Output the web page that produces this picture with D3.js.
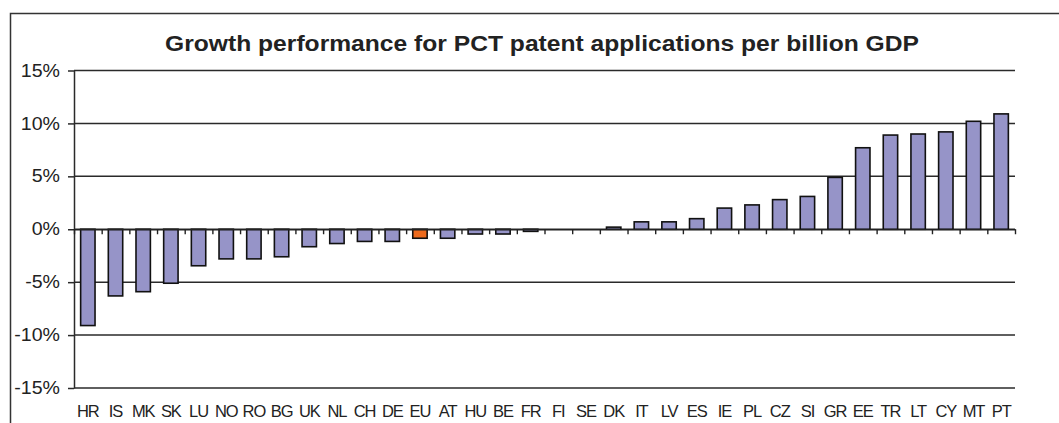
<!DOCTYPE html>
<html>
<head>
<meta charset="utf-8">
<script src="https://cdn.jsdelivr.net/npm/d3@7"></script>
<style>
  body { margin: 0; background: #fff; }
  text { font-family: "Liberation Sans", Arial, sans-serif; fill: #222; }
</style>
</head>
<body>
<script>
// data
const countries = ["HR","IS","MK","SK","LU","NO","RO","BG","UK","NL","CH","DE","EU","AT","HU","BE","FR",
  "FI","SE","DK","IT","LV","ES","IE","PL","CZ","SI","GR","EE","TR","LT","CY","MT","PT"];
const growth = [-9.1,-6.3,-5.9,-5.1,-3.45,-2.8,-2.8,-2.6,-1.65,-1.35,-1.15,-1.15,-0.85,-0.85,-0.45,-0.45,-0.2,
  0,0,0.2,0.7,0.7,1.0,2.0,2.3,2.8,3.1,4.9,7.7,8.9,9.0,9.2,10.2,10.9];
const yTicks = [-15,-10,-5,0,5,10,15];
const highlight = "EU";

const w = 1059, h = 423;
const plotL = 74, plotR = 1015, plotT = 70.5, plotB = 388;
const stretch = 1.12; // text in the picture is a bit wide

const svg = d3.select("body").append("svg")
  .attr("width", w)
  .attr("height", h);

svg.append("rect").attr("width", w).attr("height", h).attr("fill", "#fff");

// outer frame
svg.append("rect")
  .attr("x", 10.5).attr("y", 13.5)
  .attr("width", 1100).attr("height", 500)
  .attr("fill", "none").attr("stroke", "#333").attr("stroke-width", 1.5);

const data = countries.map((c, i) => ({c: c, v: growth[i]}));

const x = d3.scaleBand()
  .domain(countries)
  .range([plotL, plotR])
  .paddingInner(0.48)
  .paddingOuter(0.24);

const xEdge = d3.scaleLinear().domain([0, countries.length]).range([plotL, plotR]);

const y = d3.scaleLinear().domain([-15, 15]).range([plotB, plotT]);

// gridlines
svg.append("g")
  .selectAll("line")
  .data(yTicks)
  .enter()
  .append("line")
  .attr("x1", plotL).attr("x2", plotR)
  .attr("y1", d => y(d)).attr("y2", d => y(d))
  .attr("stroke", "#2a2a2a").attr("stroke-width", 1.5);

// y axis
const yAxis = svg.append("g")
  .attr("transform", "translate(" + plotL + ",0)")
  .call(d3.axisLeft(y).tickValues(yTicks).tickSize(6).tickSizeOuter(0).tickFormat(d => d + "%"));
yAxis.select(".domain").attr("stroke", "#2a2a2a").attr("stroke-width", 1.5);
yAxis.selectAll(".tick line").attr("stroke", "#2a2a2a").attr("stroke-width", 1.5);
yAxis.selectAll(".tick text")
  .attr("x", -14 / stretch)
  .attr("transform", "scale(" + stretch + ",1)")
  .style("font-size", "17.5px")
  .attr("fill", "#222");

// bars
svg.selectAll(".bar")
  .data(data.filter(d => d.v !== 0))
  .enter()
  .append("rect")
  .attr("class", "bar")
  .attr("x", d => x(d.c))
  .attr("y", d => y(Math.max(0, d.v)))
  .attr("width", x.bandwidth())
  .attr("height", d => Math.abs(y(d.v) - y(0)))
  .attr("fill", d => d.c === highlight ? "#ee6a1c" : "#9694c8")
  .attr("stroke", "#111")
  .attr("stroke-width", 1.6);

// zero axis with tick marks between categories
const zeroAxis = svg.append("g")
  .attr("transform", "translate(0," + y(0) + ")")
  .call(d3.axisBottom(xEdge).tickValues(d3.range(countries.length + 1)).tickSize(5).tickSizeOuter(0).tickFormat(""));
zeroAxis.select(".domain").attr("stroke", "#222").attr("stroke-width", 1.5);
zeroAxis.selectAll(".tick line").attr("stroke", "#222").attr("stroke-width", 1.4);

// category labels below the plot
const xAxis = svg.append("g")
  .attr("transform", "translate(0," + plotB + ")")
  .call(d3.axisBottom(x).tickSize(0).tickPadding(0));
xAxis.select(".domain").remove();
xAxis.selectAll(".tick text")
  .attr("dy", "29px")
  .style("font-size", "16.5px")
  .style("letter-spacing", "-1.1px")
  .attr("fill", "#222");

// title
svg.append("text")
  .attr("x", 542 / stretch)
  .attr("y", 51.5)
  .attr("transform", "scale(" + stretch + ",1)")
  .attr("text-anchor", "middle")
  .style("font-size", "22px")
  .style("font-weight", "bold")
  .text("Growth performance for PCT patent applications per billion GDP");
</script>
</body>
</html>
